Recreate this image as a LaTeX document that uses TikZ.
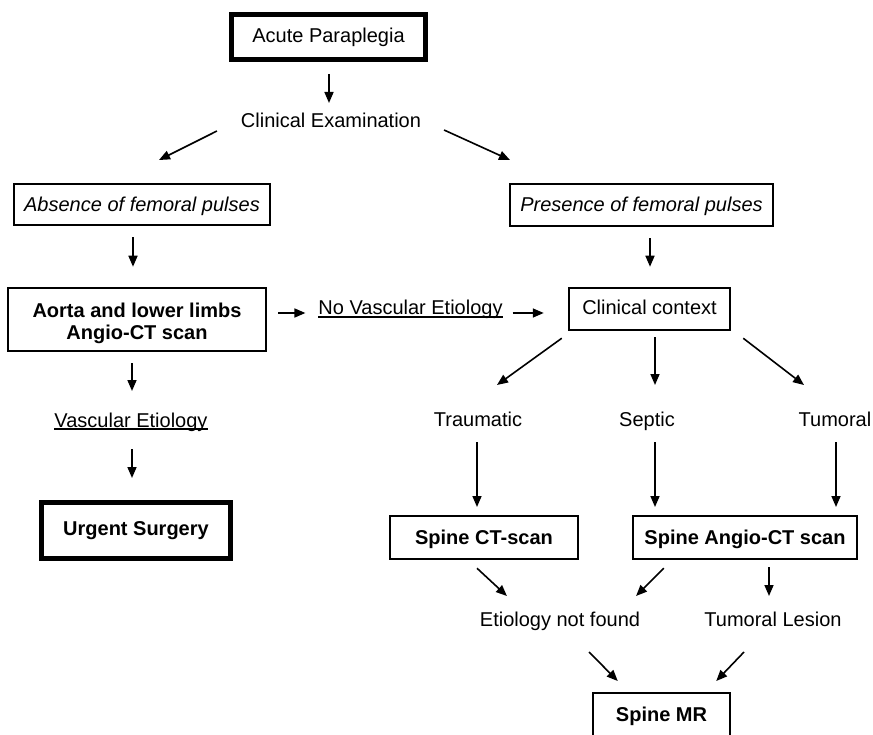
\documentclass[tikz,border=0pt]{standalone}
\usepackage{fontspec}
\setmainfont{Liberation Sans}
\usetikzlibrary{arrows.meta,calc}
\begin{document}
\begin{tikzpicture}[x=1pt,y=-1pt,
  font=\fontsize{20}{22}\selectfont,
  lbl/.style={inner sep=0pt, outer sep=0pt, text height=14.5pt, text depth=4.5pt, anchor=base},
  box/.style={draw, line width=1.6pt, inner sep=0pt, outer sep=0pt, text height=14.5pt, text depth=1pt},
  thickbox/.style={box, line width=5pt},
  bf/.style={font=\fontsize{20}{22}\selectfont\bfseries},
  arr/.style={-{Triangle[length=11pt,width=9pt]}, line width=1.6pt},
  ul/.style={line width=1.2pt}]
\useasboundingbox[fill=white] (0,0) rectangle (873,735);

% boxes
\node[thickbox, minimum width=194pt, minimum height=45pt, text depth=2.5pt] (acute) at (328.5,37) {Acute Paraplegia};
\node[box, minimum width=256.5pt, minimum height=41.5pt] (absence) at (142,204.5) {\itshape Absence of femoral pulses};
\node[box, minimum width=263.5pt, minimum height=42.5pt] (presence) at (641.5,205) {\itshape Presence of femoral pulses};
\node[draw, line width=1.6pt, inner sep=0pt, outer sep=0pt, minimum width=258.5pt, minimum height=63.5pt,
      label={[align=center, bf, yshift=-4pt, inner sep=0pt]center:Aorta and lower limbs\\Angio-CT scan}] (aorta) at (137,319.5) {};
\node[box, minimum width=161.5pt, minimum height=42.5pt, text depth=2.5pt] (cc) at (649.5,309) {Clinical context};
\node[thickbox, bf, minimum width=189pt, minimum height=56pt, text depth=4.5pt] (urgent) at (136,530.5) {Urgent Surgery};
\node[box, bf, minimum width=188.5pt, minimum height=43.5pt] (spinect) at (484,537.5) {Spine CT-scan};
\node[box, bf, minimum width=224.5pt, minimum height=43.5pt] (angio) at (745,537.5) {Spine Angio-CT scan};
\node[box, bf, minimum width=137.5pt, minimum height=44.5pt] (mr) at (661.5,715) {Spine MR};

% plain labels
\node[lbl] (clin) at (331,128) {Clinical Examination};
\node[lbl] (novasc) at (410.5,315) {No Vascular Etiology};
\node[lbl] (vasc) at (131,427) {Vascular Etiology};
\node[lbl] (traum) at (478,426) {Traumatic};
\node[lbl] (septic) at (647,426) {Septic};
\node[lbl] (tumoral) at (835,426) {Tumoral};
\node[lbl] (enf) at (560,626) {Etiology not found};
\node[lbl] (tl) at (773,626) {Tumoral Lesion};

% underlines
\draw[ul] ($(novasc.base west)+(0,2)$) -- ($(novasc.base east)+(0,2)$);
\draw[ul] ($(vasc.base west)+(0,2)$) -- ($(vasc.base east)+(0,2)$);

% arrows
\draw[arr] ($(acute.south)+(0.5,14.5)$) -- ($(acute.south |- clin.north)+(0.5,-10.5)$);
\draw[arr] ($(clin.south west)+(-24,-1.5)$) -- ($(absence.north)+(17,-23.75)$);
\draw[arr] ($(clin.south east)+(23,-2.5)$) -- ($(presence.north west)+(0.25,-23.75)$);
\draw[arr] ($(absence.south)+(-9,12)$) -- ($(absence.south |- aorta.north)+(-9,-21)$);
\draw[arr] ($(presence.south)+(8.5,12)$) -- ($(presence.south |- cc.north)+(8.5,-21)$);
\draw[arr] ($(aorta.east)+(12,-6.5)$) -- ($(novasc.west)+(-13,3)$);
\draw[arr] ($(novasc.east)+(10,3)$) -- ($(cc.west)+(-25,4)$);
\draw[arr] ($(aorta.south)+(-5,12)$) -- ($(aorta.south |- vasc.north)+(-5,-21.5)$);
\draw[arr] ($(vasc.south)+(1,17.5)$) -- ($(vasc.south |- urgent.north)+(1,-24.5)$);
\draw[arr] ($(cc.south west)+(-7,8)$) -- ($(traum.north)+(19,-26.5)$);
\draw[arr] ($(cc.south)+(5.5,7)$) -- ($(cc.south |- septic.north)+(5.5,-26.5)$);
\draw[arr] ($(cc.south east)+(13,8)$) -- ($(tumoral.north)+(-31,-26.5)$);
\draw[arr] ($(traum.south)+(-1,11.5)$) -- ($(traum.south |- spinect.north)+(-1,-8.75)$);
\draw[arr] ($(septic.south)+(8,11.5)$) -- ($(septic.south |- angio.north)+(8,-8.75)$);
\draw[arr] ($(tumoral.south)+(1,11.5)$) -- ($(tumoral.south |- angio.north)+(1,-8.75)$);
\draw[arr] ($(spinect.south)+(-7,9)$) -- ($(enf.north west)+(27,-15.5)$);
\draw[arr] ($(angio.south west)+(31,9)$) -- ($(enf.north east)+(-4,-15.5)$);
\draw[arr] ($(angio.south)+(24,8)$) -- ($(angio.south |- tl.north)+(24,-15.5)$);
\draw[arr] ($(enf.south)+(29,21.5)$) -- ($(mr.north west)+(25,-11.75)$);
\draw[arr] ($(tl.south)+(-29,21.5)$) -- ($(mr.north east)+(-14,-11.75)$);
\end{tikzpicture}
\end{document}
